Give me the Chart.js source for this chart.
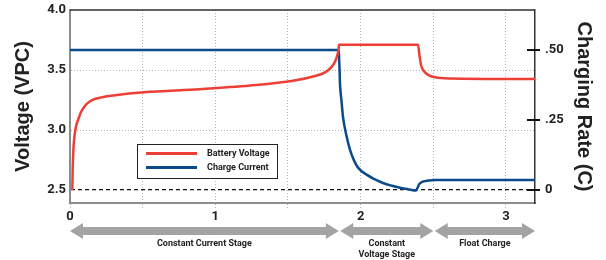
<!DOCTYPE html>
<html>
<head>
<meta charset="utf-8">
<script src="https://cdn.jsdelivr.net/npm/chart.js@4"></script>
<style>
  html, body { margin: 0; padding: 0; background: #fff; }
  #wrap { width: 606px; height: 260px; position: relative; }
</style>
</head>
<body>
<div id="wrap"><canvas id="grafico-carga"></canvas></div>
<script>
// time in charge hours (x)
const voltageTime = [0.016, 0.019, 0.024, 0.031, 0.041, 0.057, 0.076, 0.096, 0.117, 0.151, 0.206, 0.31, 0.509, 0.895, 1.239, 1.535, 1.686, 1.755, 1.796, 1.824, 1.841, 1.848, 1.851, 2.395, 2.405, 2.416, 2.436, 2.464, 2.512, 2.615, 3.2];
const voltageValues = [2.5, 2.7, 2.85, 2.95, 3.03, 3.09, 3.15, 3.19, 3.22, 3.25, 3.27, 3.29, 3.315, 3.34, 3.37, 3.41, 3.45, 3.48, 3.52, 3.57, 3.63, 3.67, 3.71, 3.71, 3.62, 3.54, 3.49, 3.46, 3.44, 3.43, 3.425];

const currentTime = [0, 1.848, 1.855, 1.858, 1.868, 1.879, 1.9, 1.927, 1.955, 1.982, 2.044, 2.099, 2.154, 2.216, 2.271, 2.326, 2.381, 2.392, 2.402, 2.423, 2.457, 2.512, 3.2];
const currentValues = [0.5, 0.5, 0.43, 0.38, 0.32, 0.26, 0.2, 0.143, 0.105, 0.08, 0.054, 0.038, 0.025, 0.015, 0.008, 0.003, -0.002, 0.008, 0.02, 0.029, 0.033, 0.036, 0.036];

const seriesNames = ["Battery Voltage", "Charge Current"];
const timeGrid = [0, 0.5, 1, 1.5, 2, 2.5, 3];
const voltageTicks = [2.5, 3.0, 3.5, 4.0];
const rateTicks = [0, 0.25, 0.5];
const rateTickLabels = ["0", ".25", ".50"];

const stageNames = [["Constant Current Stage"], ["Constant", "Voltage Stage"], ["Float Charge"]];
const stageStart = [0, 1.86, 2.51];
const stageEnd = [1.85, 2.5, 3.2];

const RED = "#ee3f37";
const BLUE = "#0d4a8a";

function toPoints(xs, ys) {
    return xs.map((x, i) => ({ x: x, y: ys[i] }));
}

const marcoPlugin = {
    id: "marco",
    afterDraw(chart) {
        const ctx = chart.ctx;
        const a = chart.chartArea;
        const x = chart.scales.x;
        const y2 = chart.scales.y2;

        // top edge of the box
        ctx.save();
        ctx.strokeStyle = "#333";
        ctx.lineWidth = 1.5;
        ctx.beginPath();
        ctx.moveTo(a.left, a.top);
        ctx.lineTo(a.right, a.top);
        ctx.stroke();

        // tick marks crossing the right axis
        ctx.strokeStyle = "#111";
        ctx.lineWidth = 2;
        y2.ticks.forEach((t, i) => {
            const py = y2.getPixelForTick(i);
            ctx.beginPath();
            ctx.moveTo(a.right - 8, py);
            ctx.lineTo(a.right + 5, py);
            ctx.stroke();
        });

        // legend box
        const lx = a.left + 67, ly = a.top + 134;
        ctx.fillStyle = "#fff";
        ctx.fillRect(lx, ly, 140, 34);
        ctx.strokeStyle = "#222";
        ctx.lineWidth = 1;
        ctx.strokeRect(lx + 0.5, ly + 0.5, 140, 34);
        chart.data.datasets.forEach((ds, i) => {
            const yy = ly + 9.5 + i * 14;
            ctx.strokeStyle = ds.borderColor;
            ctx.lineWidth = 3;
            ctx.beginPath();
            ctx.moveTo(lx + 9, yy);
            ctx.lineTo(lx + 60, yy);
            ctx.stroke();
            ctx.fillStyle = "#222";
            ctx.font = "bold 9px Roboto";
            ctx.textBaseline = "middle";
            ctx.textAlign = "left";
            ctx.fillText(ds.label, lx + 70, yy);
        });

        // stage arrows under the axis
        const ay = a.bottom + 28;
        stageNames.forEach((lines, i) => {
            const x1 = x.getPixelForValue(stageStart[i]);
            const x2 = x.getPixelForValue(stageEnd[i]);
            ctx.fillStyle = "#a3a3a3";
            ctx.beginPath();
            ctx.moveTo(x1, ay);
            ctx.lineTo(x1 + 13, ay - 8);
            ctx.lineTo(x1 + 13, ay - 4);
            ctx.lineTo(x2 - 13, ay - 4);
            ctx.lineTo(x2 - 13, ay - 8);
            ctx.lineTo(x2, ay);
            ctx.lineTo(x2 - 13, ay + 8);
            ctx.lineTo(x2 - 13, ay + 4);
            ctx.lineTo(x1 + 13, ay + 4);
            ctx.lineTo(x1 + 13, ay + 8);
            ctx.closePath();
            ctx.fill();
            ctx.fillStyle = "#222";
            ctx.font = "bold 9px Roboto";
            ctx.textAlign = "center";
            ctx.textBaseline = "middle";
            lines.forEach((txt, j) => {
                ctx.fillText(txt, (x1 + x2) / 2, ay + 13 + j * 11);
            });
        });
        ctx.restore();
    }
};

function fijarAncho(w) {
    return s => {
        s.width = w;
        s.paddingTop = 0;
        s.paddingBottom = 0;
    };
}

const canvas = document.getElementById("grafico-carga");
const chart = new Chart(canvas.getContext("2d"), {
    type: "line",
    data: {
        datasets: [{
            label: seriesNames[0],
            data: toPoints(voltageTime, voltageValues),
            borderColor: RED,
            borderWidth: 2.5,
            pointRadius: 0,
            cubicInterpolationMode: "monotone",
            yAxisID: "y"
        }, {
            label: seriesNames[1],
            data: toPoints(currentTime, currentValues),
            borderColor: BLUE,
            borderWidth: 2.5,
            pointRadius: 0,
            cubicInterpolationMode: "monotone",
            yAxisID: "y2"
        }]
    },
    options: {
        responsive: true,
        maintainAspectRatio: false,
        animation: false,
        layout: { padding: { top: 10, left: 0, right: 0, bottom: 0 } },
        plugins: {
            legend: { display: false },
            tooltip: { enabled: false }
        },
        scales: {
            x: {
                type: "linear",
                min: 0,
                max: 3.2,
                afterBuildTicks: s => { s.ticks = timeGrid.map(v => ({ value: v })); },
                afterFit: s => { s.height = 57; },
                grid: {
                    color: "#b5b5b5",
                    lineWidth: 1,
                    tickLength: 6,
                    tickColor: "#b5b5b5",
                    tickBorderDash: [1, 2]
                },
                border: { color: "#8c8c8c", width: 2, dash: [1, 2] },
                ticks: {
                    padding: 0,
                    maxRotation: 0,
                    color: "#222",
                    font: { family: "Roboto", size: 13, weight: "bold" },
                    callback: v => Number.isInteger(v) ? String(v) : ""
                }
            },
            y: {
                position: "left",
                min: 2.392,
                max: 4.0,
                afterBuildTicks: s => { s.ticks = voltageTicks.map(v => ({ value: v })); },
                afterFit: fijarAncho(70),
                grid: {
                    drawTicks: false,
                    color: c => (c.tick && c.tick.value === 2.5) ? "#111" : "#b5b5b5",
                    lineWidth: c => (c.tick && c.tick.value === 2.5) ? 1.2 : 1
                },
                border: {
                    color: "#8c8c8c",
                    width: 2,
                    dash: c => (c.tick && c.tick.value === 2.5) ? [4, 3] : [1, 2]
                },
                ticks: {
                    padding: 4,
                    color: "#222",
                    font: { family: "Roboto", size: 13, weight: "bold" },
                    callback: v => v.toFixed(1)
                },
                title: {
                    display: true,
                    text: "Voltage (VPC)",
                    color: "#222",
                    font: { family: "Liberation Sans", size: 20, weight: "bold" },
                    padding: { top: 11, bottom: 0 }
                }
            },
            y2: {
                position: "right",
                min: -0.0464,
                max: 0.643,
                afterBuildTicks: s => { s.ticks = rateTicks.map(v => ({ value: v })); },
                afterFit: fijarAncho(71),
                grid: { drawOnChartArea: false, drawTicks: false },
                border: { color: "#333", width: 1.5 },
                ticks: {
                    padding: 10,
                    color: "#222",
                    font: { family: "Roboto", size: 13, weight: "bold" },
                    callback: (v, i) => rateTickLabels[i]
                },
                title: {
                    display: true,
                    text: "Charging Rate (C)",
                    color: "#222",
                    font: { family: "Liberation Sans", size: 20, weight: "bold" },
                    padding: { top: 10, bottom: 0 }
                }
            }
        }
    },
    plugins: [marcoPlugin]
});
</script>
</body>
</html>
